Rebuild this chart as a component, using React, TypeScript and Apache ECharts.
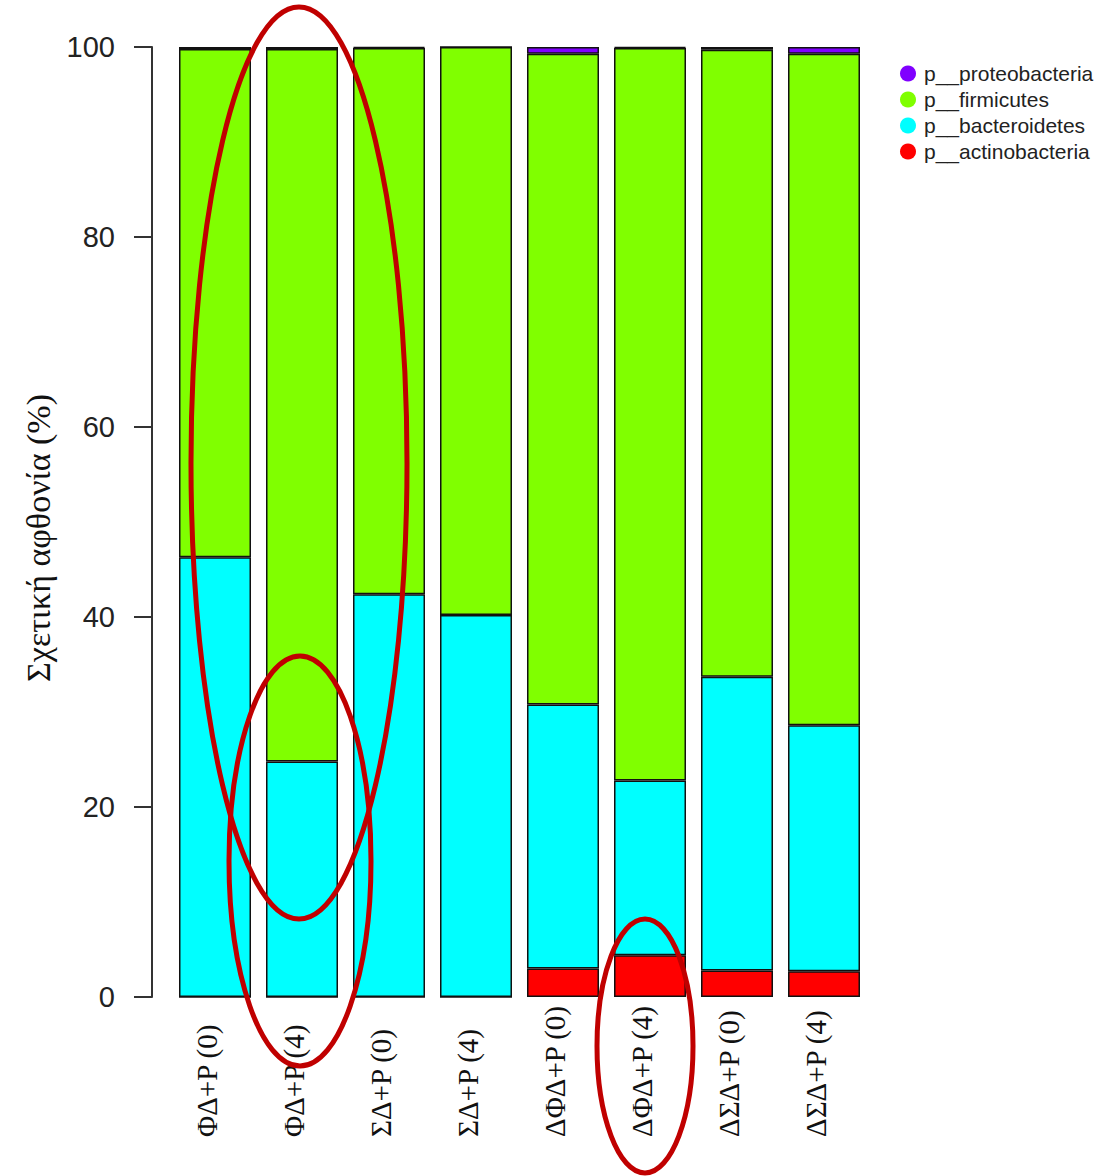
import React, { useEffect, useRef } from "react";
import * as echarts from "echarts";

const categories = ["ΦΔ+P (0)", "ΦΔ+P (4)", "ΣΔ+P (0)", "ΣΔ+P (4)", "ΔΦΔ+P (0)", "ΔΦΔ+P (4)", "ΔΣΔ+P (0)", "ΔΣΔ+P (4)"];
const actinobacteria = [0, 0, 0, 0, 3.0, 4.4, 2.8, 2.7];
const bacteroidetes = [46.3, 24.8, 42.4, 40.2, 27.8, 18.4, 30.9, 25.9];
const firmicutes = [53.5, 75.0, 57.5, 59.8, 68.5, 77.1, 66.0, 70.7];
const proteobacteria = [0.2, 0.2, 0.1, 0.0, 0.7, 0.1, 0.3, 0.7];
const yTicks = [0, 20, 40, 60, 80, 100];

const seriesNames = ["p__actinobacteria", "p__bacteroidetes", "p__firmicutes", "p__proteobacteria"];
const seriesColors = ["#FF0000", "#00FFFF", "#80FF00", "#8000FF"];
const seriesData = [actinobacteria, bacteroidetes, firmicutes, proteobacteria];

export default function App() {
  const ref = useRef<HTMLDivElement>(null);
  useEffect(() => {
    document.body.style.margin = "0";
    const chart = echarts.init(ref.current!, null, { renderer: "svg" });
    chart.setOption({
      animation: false,
      backgroundColor: "#ffffff",
      grid: { left: 171.5, top: 47, width: 696, height: 950, containLabel: false },
      legend: {
        orient: "vertical",
        left: 895,
        top: 58,
        padding: 5,
        icon: "circle",
        itemWidth: 16,
        itemHeight: 16,
        itemGap: 5,
        data: [...seriesNames].reverse(),
        itemStyle: { borderWidth: 0 },
        textStyle: { fontFamily: "Liberation Sans", fontSize: 21, color: "#222", padding: [0, 0, 0, 3] },
      },
      xAxis: {
        type: "category",
        data: categories,
        axisLine: { show: false },
        axisTick: { show: false },
        axisLabel: {
          rotate: 90,
          align: "left",
          verticalAlign: "bottom",
          lineHeight: 16,
          margin: 140,
          fontFamily: "Liberation Serif",
          fontSize: 29,
          color: "#111",
          interval: 0,
        },
      },
      yAxis: {
        type: "value",
        min: yTicks[0],
        max: yTicks[yTicks.length - 1],
        interval: 20,
        offset: 19.5,
        splitLine: { show: false },
        axisLine: { show: true, lineStyle: { color: "#333", width: 2 } },
        axisTick: { show: true, length: 18, lineStyle: { color: "#333", width: 2 } },
        axisLabel: { margin: 37, fontFamily: "Liberation Sans", fontSize: 29, color: "#222" },
      },
      series: seriesNames.map((name, i) => ({
        name,
        type: "bar",
        stack: "total",
        barWidth: 72,
        data: seriesData[i],
        itemStyle: { color: seriesColors[i], borderColor: "#111", borderWidth: 1.5 },
      })),
      graphic: [
        {
          type: "text",
          x: 38,
          y: 538,
          rotation: Math.PI / 2,
          style: {
            text: "Σχετική αφθονία (%)",
            fontFamily: "Liberation Serif",
            fontSize: 34,
            fill: "#111",
            align: "center",
            verticalAlign: "middle",
          },
        },
        {
          type: "ellipse",
          shape: { cx: 299, cy: 463, rx: 108, ry: 456 },
          style: { fill: "none", stroke: "#C00000", lineWidth: 5 },
          z: 100,
        },
        {
          type: "ellipse",
          shape: { cx: 300, cy: 861, rx: 71, ry: 205 },
          style: { fill: "none", stroke: "#C00000", lineWidth: 5 },
          z: 100,
        },
        {
          type: "ellipse",
          shape: { cx: 645, cy: 1046, rx: 48, ry: 127 },
          style: { fill: "none", stroke: "#C00000", lineWidth: 5 },
          z: 100,
        },
      ],
    });
    return () => chart.dispose();
  }, []);
  return <div ref={ref} style={{ width: 1117, height: 1176 }} />;
}
